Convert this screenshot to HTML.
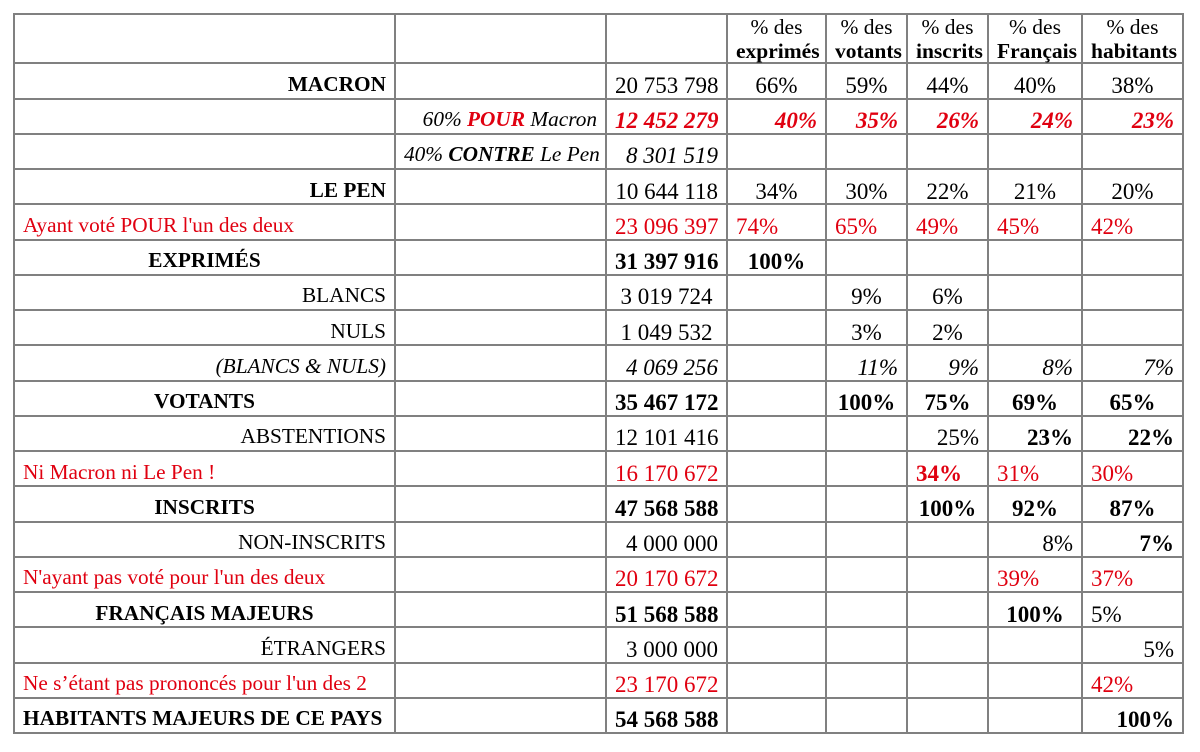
<!DOCTYPE html>
<html><head><meta charset="utf-8">
<style>
html,body{margin:0;padding:0;background:#fff;}
body{width:1200px;height:752px;position:relative;overflow:hidden;font-family:"Liberation Serif","Times New Roman",serif;color:#000;}
.g{position:absolute;left:13px;top:13px;display:grid;grid-template-columns:379px 209px 119px 97px 79px 79px 92px 99px;grid-template-rows:47.3px repeat(19,33.26px);gap:2px;padding:2px;background:#808080;}
.g>div{background:#fff;box-sizing:border-box;padding:7.5px 8px 0 8px;line-height:24px;font-size:21.3px;white-space:nowrap;overflow:visible;}
.g>div.h{padding-top:1px;line-height:23.5px;text-align:center;font-size:21.5px;}
.r{text-align:right}.c{text-align:center}.l{text-align:left}
.b{font-weight:bold}.i{font-style:italic}.red{color:#e00010}
.g>div.n{font-size:23px;padding-top:9.5px;}
</style></head><body>
<div class="g">
<div class="h"></div><div class="h"></div><div class="h"></div>
<div class="h">% des<br><b>exprimés</b></div>
<div class="h">% des<br><b>votants</b></div>
<div class="h">% des<br><b>inscrits</b></div>
<div class="h">% des<br><b>Français</b></div>
<div class="h">% des<br><b>habitants</b></div>

<div class="r b">MACRON</div><div></div><div class="n r">20 753 798</div><div class="n c">66%</div><div class="n c">59%</div><div class="n c">44%</div><div class="n c">40%</div><div class="n c">38%</div>

<div></div><div class="r i">60% <b class="red">POUR</b> Macron</div><div class="n r b i red">12 452 279</div><div class="n r b i red">40%</div><div class="n r b i red">35%</div><div class="n r b i red">26%</div><div class="n r b i red">24%</div><div class="n r b i red">23%</div>

<div></div><div class="r i">40% <b>CONTRE</b> Le Pen</div><div class="n r i">8 301 519</div><div></div><div></div><div></div><div></div><div></div>

<div class="r b">LE PEN</div><div></div><div class="n r">10 644 118</div><div class="n c">34%</div><div class="n c">30%</div><div class="n c">22%</div><div class="n c">21%</div><div class="n c">20%</div>

<div class="l red">Ayant voté POUR l'un des deux</div><div></div><div class="n r red">23 096 397</div><div class="n l red">74%</div><div class="n l red">65%</div><div class="n l red">49%</div><div class="n l red">45%</div><div class="n l red">42%</div>

<div class="c b">EXPRIMÉS</div><div></div><div class="n r b">31 397 916</div><div class="n c b">100%</div><div></div><div></div><div></div><div></div>

<div class="r">BLANCS</div><div></div><div class="n c">3 019 724</div><div></div><div class="n c">9%</div><div class="n c">6%</div><div></div><div></div>

<div class="r">NULS</div><div></div><div class="n c">1 049 532</div><div></div><div class="n c">3%</div><div class="n c">2%</div><div></div><div></div>

<div class="r i">(BLANCS &amp; NULS)</div><div></div><div class="n r i">4 069 256</div><div></div><div class="n r i">11%</div><div class="n r i">9%</div><div class="n r i">8%</div><div class="n r i">7%</div>

<div class="c b">VOTANTS</div><div></div><div class="n r b">35 467 172</div><div></div><div class="n c b">100%</div><div class="n c b">75%</div><div class="n c b">69%</div><div class="n c b">65%</div>

<div class="r">ABSTENTIONS</div><div></div><div class="n r">12 101 416</div><div></div><div></div><div class="n r">25%</div><div class="n r b">23%</div><div class="n r b">22%</div>

<div class="l red">Ni Macron ni Le Pen !</div><div></div><div class="n r red">16 170 672</div><div></div><div></div><div class="n l b red">34%</div><div class="n l red">31%</div><div class="n l red">30%</div>

<div class="c b">INSCRITS</div><div></div><div class="n r b">47 568 588</div><div></div><div></div><div class="n c b">100%</div><div class="n c b">92%</div><div class="n c b">87%</div>

<div class="r">NON-INSCRITS</div><div></div><div class="n r">4 000 000</div><div></div><div></div><div></div><div class="n r">8%</div><div class="n r b">7%</div>

<div class="l red">N'ayant pas voté pour l'un des deux</div><div></div><div class="n r red">20 170 672</div><div></div><div></div><div></div><div class="n l red">39%</div><div class="n l red">37%</div>

<div class="c b">FRANÇAIS MAJEURS</div><div></div><div class="n r b">51 568 588</div><div></div><div></div><div></div><div class="n c b">100%</div><div class="n l">5%</div>

<div class="r">ÉTRANGERS</div><div></div><div class="n r">3 000 000</div><div></div><div></div><div></div><div></div><div class="n r">5%</div>

<div class="l red">Ne s’étant pas prononcés pour l'un des 2</div><div></div><div class="n r red">23 170 672</div><div></div><div></div><div></div><div></div><div class="n l red">42%</div>

<div class="l b">HABITANTS MAJEURS DE CE PAYS</div><div></div><div class="n r b">54 568 588</div><div></div><div></div><div></div><div></div><div class="n r b">100%</div>
</div>
</body></html>
